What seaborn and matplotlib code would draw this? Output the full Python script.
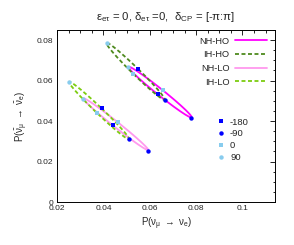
import numpy as np
import pandas as pd
import matplotlib
matplotlib.use('Agg')
import matplotlib.pyplot as plt
from matplotlib.lines import Line2D
from matplotlib.ticker import MultipleLocator
import seaborn as sns

# ---------------------------------------------------------------------------
# Data: (P, Pbar) at delta_CP = -180, -90, 0, 90 deg
# ---------------------------------------------------------------------------
DELTAS = [-180, -90, 0, 90]

NH_HO_P = [0.0636, 0.0779, 0.0657, 0.0507]
NH_HO_PBAR = [0.0533, 0.0417, 0.0554, 0.0667]

IH_HO_P = [0.0550, 0.0665, 0.0528, 0.0414]
IH_HO_PBAR = [0.0657, 0.0505, 0.0634, 0.0786]

NH_LO_P = [0.0442, 0.0593, 0.0464, 0.0313]
NH_LO_PBAR = [0.0380, 0.0254, 0.0395, 0.0510]

IH_LO_P = [0.0392, 0.0510, 0.0371, 0.0252]
IH_LO_PBAR = [0.0464, 0.0310, 0.0442, 0.0593]

CASES = ['NH-HO', 'IH-HO', 'NH-LO', 'IH-LO']
LINE_COLORS = ['#ff00ff', '#4e8a1e', '#ff99ee', '#7ccc10']
LINE_DASHED = [False, True, False, True]

MARKER_COLORS = ['#0000ff', '#0000ff', '#88ccee', '#88ccee']
MARKER_SHAPES = ['s', 'o', 's', 'o']


def ellipse(p, pb, n=241):
    # P(d) = A + B cos d + C sin d, fixed by the four delta_CP points
    p = np.asarray(p)
    pb = np.asarray(pb)
    d = np.linspace(-np.pi, np.pi, n)
    out = []
    for v in (p, pb):
        a = v.mean()
        b = (v[2] - v[0]) / 2
        c = (v[3] - v[1]) / 2
        out.append(a + b * np.cos(d) + c * np.sin(d))
    return out


def main():
    sns.set_style('white')
    plt.rcParams['font.family'] = ['Liberation Sans', 'DejaVu Sans']
    plt.rcParams['mathtext.fontset'] = 'custom'
    plt.rcParams['mathtext.rm'] = 'Liberation Sans'
    plt.rcParams['mathtext.it'] = 'Liberation Sans'
    plt.rcParams['mathtext.bf'] = 'Liberation Sans'

    fig = plt.figure(figsize=(2.94, 2.45), dpi=100)
    ax = fig.add_axes([0.194, 0.1755, 0.741, 0.7021])

    series = [(NH_HO_P, NH_HO_PBAR), (IH_HO_P, IH_HO_PBAR),
              (NH_LO_P, NH_LO_PBAR), (IH_LO_P, IH_LO_PBAR)]

    handles = []
    for name, (p, pb), col, dashed in zip(CASES, series, LINE_COLORS, LINE_DASHED):
        x, y = ellipse(p, pb)
        df = pd.DataFrame({'P': x, 'Pbar': y})
        ls = (0, (2.2, 1.4)) if dashed else '-'
        sns.lineplot(data=df, x='P', y='Pbar', sort=False, estimator=None,
                     color=col, lw=1.3, ls=ls, ax=ax)
        handles.append(Line2D([], [], color=col, lw=1.3, ls=ls, label=name))

    # delta_CP markers
    rows = []
    for p, pb in series:
        for i, d in enumerate(DELTAS):
            rows.append({'P': p[i], 'Pbar': pb[i], 'delta': d})
    pts = pd.DataFrame(rows)
    mhandles = []
    for d, col, mk in zip(DELTAS, MARKER_COLORS, MARKER_SHAPES):
        sub = pts[pts['delta'] == d]
        sns.scatterplot(data=sub, x='P', y='Pbar', color=col, marker=mk,
                        s=10, linewidth=0, ax=ax, zorder=5)
        mhandles.append(Line2D([], [], color=col, marker=mk, ls='none',
                               markersize=3.2, markeredgewidth=0, label=str(d)))

    ax.set_xlim(0.02, 0.114)
    ax.set_ylim(0, 0.085)
    ax.xaxis.set_minor_locator(MultipleLocator(0.005))
    ax.yaxis.set_minor_locator(MultipleLocator(0.005))
    ax.set_xticks([0.02, 0.04, 0.06, 0.08, 0.1])
    ax.set_xticklabels(['0.02', '0.04', '0.06', '0.08', '0.1'])
    ax.set_yticks([0, 0.02, 0.04, 0.06, 0.08])
    ax.set_yticklabels(['0', '0.02', '0.04', '0.06', '0.08'])
    ax.tick_params(which='both', direction='in', top=True, right=True,
                   labelsize=6, color='black', width=0.6)
    ax.tick_params(which='major', length=3.5, pad=2.5)
    ax.tick_params(which='minor', length=1.8)
    for sp in ax.spines.values():
        sp.set_color('black')
        sp.set_linewidth(0.7)

    ax.set_xlabel(r'P($\nu_\mu$ $\rightarrow$ $\nu_e$)', fontsize=7, labelpad=2)
    ax.set_ylabel(r'P($\bar{\nu}_\mu$ $\rightarrow$ $\bar{\nu}_e$)', fontsize=7, labelpad=5)
    ax.set_title(r'$\varepsilon_{e\tau}$ = 0, $\delta_{e\tau}$ =0,  $\delta_{CP}$ = [-$\pi$:$\pi$]',
                 fontsize=8.2, pad=7)

    leg1 = ax.legend(handles=handles, loc='upper right', frameon=False,
                     markerfirst=False, fontsize=6.7, handlelength=3.4,
                     handletextpad=0.6, labelspacing=0.5,
                     bbox_to_anchor=(1.0, 1.01))
    ax.add_artist(leg1)
    ax.legend(handles=mhandles, loc='upper left', frameon=False, fontsize=6.8,
              handlelength=1.0, handletextpad=0.5, labelspacing=0.3,
              bbox_to_anchor=(0.69, 0.54))

    fig.savefig('out.png', dpi=100)
    plt.close(fig)


if __name__ == '__main__':
    main()
